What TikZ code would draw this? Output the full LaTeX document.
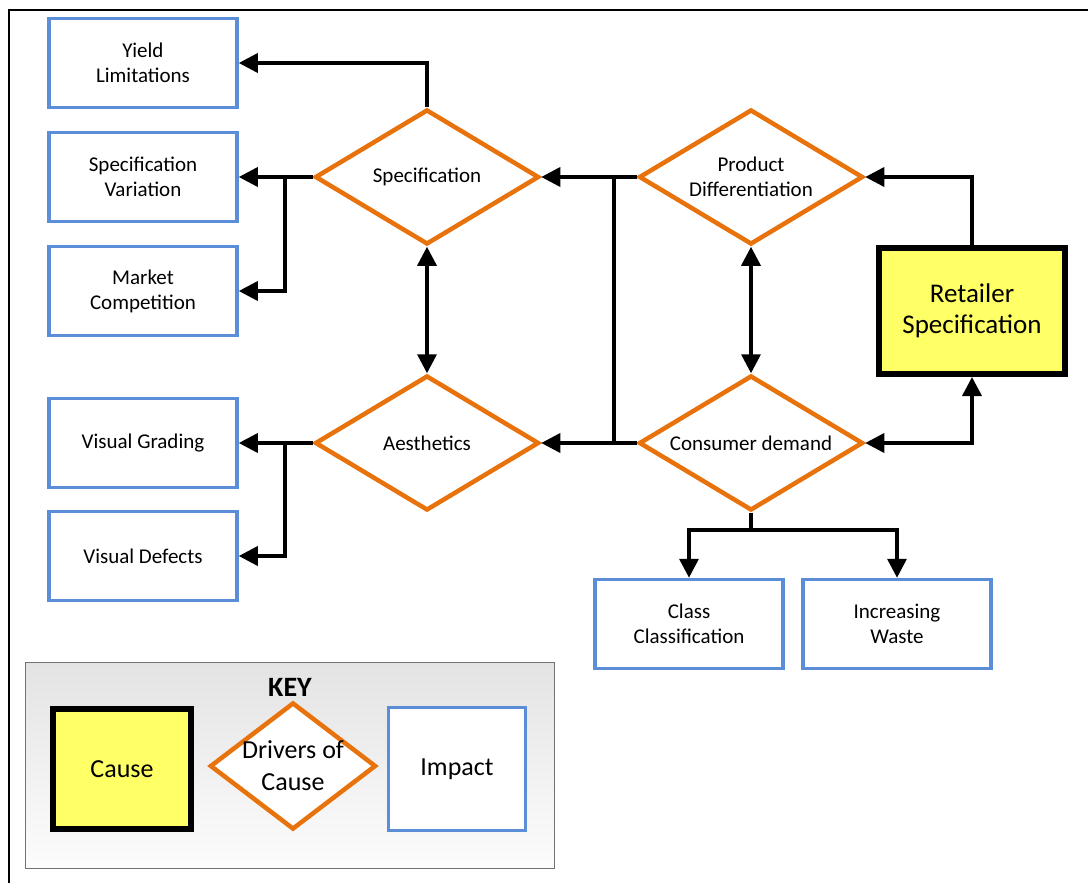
\documentclass[tikz,border=0pt]{standalone}
\usepackage{fontspec}
\setmainfont{Carlito}
\usetikzlibrary{shapes.geometric, arrows.meta}

\definecolor{impactblue}{HTML}{5B8ED6}
\definecolor{driverorange}{HTML}{E8720C}
\definecolor{causeyellow}{HTML}{FFFF66}

\tikzset{
  impact/.style={draw=impactblue, line width=3.5, fill=white, minimum width=188, minimum height=89,
    align=center, font=\fontsize{21}{25}\selectfont},
  driver/.style={diamond, draw=driverorange, line width=4.5, fill=white, inner sep=0pt, shape aspect=1.65,
    minimum width=224, minimum height=135, align=center, font=\fontsize{21}{25}\selectfont},
  cause/.style={draw=black, line width=6, fill=causeyellow, align=center,
    font=\fontsize{27}{31}\selectfont},
  conn/.style={line width=3.5, -{Triangle[length=19pt, width=19pt]}},
  twoway/.style={line width=3.5, {Triangle[length=19pt, width=19pt]}-{Triangle[length=19pt, width=19pt]}},
  link/.style={line width=3.5},
}

\begin{document}
\begin{tikzpicture}[x=1pt, y=-1pt]
  \useasboundingbox (0,0) rectangle (1088,883);
  \draw[line width=2] (9,883) -- (9,10) -- (1088,10);

  % impacts on the left
  \node[impact] (yieldlim)   at (143,63)  {Yield\\Limitations};
  \node[impact] (specvar)    at (143,177) {Specification\\Variation};
  \node[impact] (marketcomp) at (143,291) {Market\\Competition};
  \node[impact] (visgrad)    at (143,443) {Visual Grading};
  \node[impact] (visdef)     at (143,556) {Visual Defects};

  % drivers
  \node[driver] (spec)     at (427,177) {Specification};
  \node[driver] (aesth)    at (427,443) {Aesthetics};
  \node[driver] (proddiff) at (751,177) {Product\\Differentiation};
  \node[driver] (consdem)  at (751,443) {Consumer demand};

  % cause
  \node[cause, minimum width=186, minimum height=126] (retspec) at (972,311) {Retailer\\Specification};

  % impacts below
  \node[impact] (classcls) at (689,624) {Class\\Classification};
  \node[impact] (incwaste) at (897,624) {Increasing\\Waste};

  % connectors
  \coordinate (specsplit)  at (285,177);
  \coordinate (aesthsplit) at (285,443);
  \coordinate (midtop)     at (614,177);
  \coordinate (midbot)     at (614,443);
  \coordinate (cdsplit)    at (751,530);

  \draw[conn] (spec.north) |- (yieldlim.east);
  \draw[conn] (spec.west) -- (specvar.east);
  \draw[conn] (specsplit) |- (marketcomp.east);
  \draw[conn] (aesth.west) -- (visgrad.east);
  \draw[conn] (aesthsplit) |- (visdef.east);
  \draw[twoway] (spec.south) -- (aesth.north);
  \draw[twoway] (proddiff.south) -- (consdem.north);
  \draw[conn] (proddiff.west) -- (spec.east);
  \draw[conn] (consdem.west) -- (aesth.east);
  \draw[link] (midtop) -- (midbot);
  \draw[conn] (retspec.north) |- (proddiff.east);
  \draw[twoway] (consdem.east) -| (retspec.south);
  \draw[link] (consdem.south) -- (cdsplit);
  \draw[conn] (cdsplit) -| (classcls.north);
  \draw[conn] (cdsplit) -| (incwaste.north);

  % key
  \node[draw=black!55, line width=1, top color=black!11, bottom color=black!1,
    minimum width=529, minimum height=206] (keybox) at (289.5,765) {};
  \node[font=\fontsize{28}{32}\selectfont\bfseries] (keylabel) at (290,687) {KEY};
  \node[cause, minimum width=138, minimum height=120, font=\fontsize{26}{31}\selectfont] (keycause) at (122,769) {Cause};
  \node[diamond, draw=driverorange, line width=4.5, fill=white, minimum width=166, minimum height=127,
    label={[align=center, font=\fontsize{26}{32}\selectfont]center:Drivers of\\Cause}] (keydriver) at (293,766) {};
  \node[impact, minimum width=137, minimum height=123, font=\fontsize{26}{31}\selectfont] (keyimpact) at (457,769) {Impact};
\end{tikzpicture}
\end{document}
